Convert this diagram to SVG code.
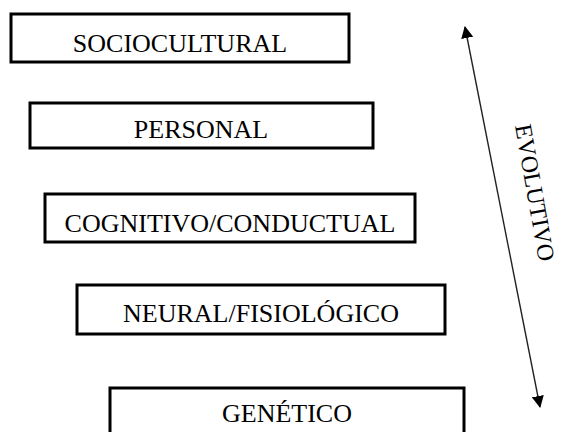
<svg xmlns="http://www.w3.org/2000/svg" width="561" height="432" viewBox="0 0 561 432">
  <style>
    .box { fill: #ffffff; stroke: #000000; stroke-width: 3; }
    .label { font-family: "Liberation Serif", "Times New Roman", serif; font-size: 26px; fill: #000000; text-anchor: middle; }
    .side { font-size: 24px; }
    .axis { stroke: #222222; stroke-width: 1.4; fill: none; }
  </style>
  <defs>
    <marker id="arrowhead" viewBox="0 0 12 12" refX="11" refY="6" markerWidth="12" markerHeight="12" markerUnits="userSpaceOnUse" orient="auto-start-reverse">
      <path d="M0,0 L12,6 L0,12 Z" fill="#000000"/>
    </marker>
  </defs>
  <rect width="561" height="432" fill="#ffffff"/>

  <g id="sociocultural">
    <rect class="box" x="11" y="14" width="338" height="48"/>
    <text class="label" x="180" y="52">SOCIOCULTURAL</text>
  </g>
  <g id="personal">
    <rect class="box" x="30" y="103" width="343" height="45"/>
    <text class="label" x="201" y="138">PERSONAL</text>
  </g>
  <g id="cognitivo-conductual">
    <rect class="box" x="45" y="194" width="370" height="48"/>
    <text class="label" x="230" y="232">COGNITIVO/CONDUCTUAL</text>
  </g>
  <g id="neural-fisiologico">
    <rect class="box" x="77" y="285" width="368" height="49"/>
    <text class="label" x="261" y="322">NEURAL/FISIOLÓGICO</text>
  </g>
  <g id="genetico">
    <rect class="box" x="110" y="388" width="354" height="50"/>
    <text class="label" x="287" y="422">GENÉTICO</text>
  </g>

  <g id="connectors">
    <line class="axis" x1="465" y1="27" x2="540" y2="407" marker-start="url(#arrowhead)" marker-end="url(#arrowhead)"/>
  </g>

  <g id="evolutivo">
    <text class="label side" transform="translate(527,194) rotate(80)">EVOLUTIVO</text>
  </g>
</svg>
